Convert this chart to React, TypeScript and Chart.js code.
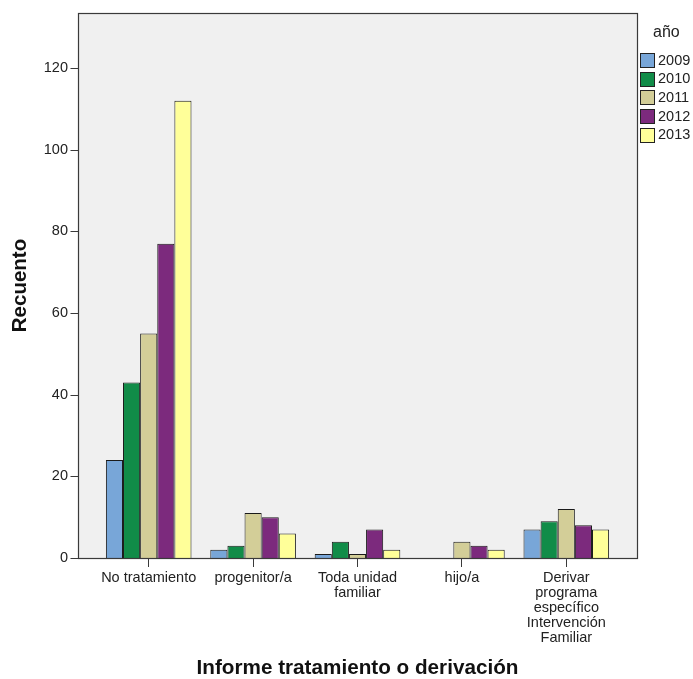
import React, { useEffect, useRef } from "react";
import { Chart, registerables } from "chart.js";

Chart.register(...registerables);

const categories: (string | string[])[] = [
  "No tratamiento",
  "progenitor/a",
  ["Toda unidad", "familiar"],
  "hijo/a",
  ["Derivar", "programa", "específico", "Intervención", "Familiar"],
];

const years = ["2009", "2010", "2011", "2012", "2013"];
const v2009: (number | null)[] = [24, 2, 1, null, 7];
const v2010: (number | null)[] = [43, 3, 4, null, 9];
const v2011: (number | null)[] = [55, 11, 1, 4, 12];
const v2012: (number | null)[] = [77, 10, 7, 3, 8];
const v2013: (number | null)[] = [112, 6, 2, 2, 7];
const seriesValues = [v2009, v2010, v2011, v2012, v2013];
const seriesColors = ["#78a6d8", "#118c48", "#d3ce98", "#7c2a7d", "#ffff99"];

const yTicks = [0, 20, 40, 60, 80, 100, 120];
const yMax = 133.5;

const legendTitle = "año";
const xTitle = "Informe tratamiento o derivación";
const yTitle = "Recuento";

const FONT = "'Liberation Sans', Arial, sans-serif";
const BOX_PAD = 18.5;

const plotBox = {
  id: "plotBox",
  beforeDraw(chart: any) {
    const { ctx, chartArea } = chart;
    const l = chartArea.left - BOX_PAD;
    const r = chartArea.right + BOX_PAD;
    ctx.save();
    ctx.fillStyle = "#f0f0f0";
    ctx.fillRect(l, chartArea.top, r - l, chartArea.bottom - chartArea.top);
    ctx.restore();
  },
  afterDatasetsDraw(chart: any) {
    const { ctx, chartArea, scales } = chart;
    const l = Math.round(chartArea.left - BOX_PAD) + 0.5;
    const r = Math.round(chartArea.right + BOX_PAD) + 0.5;
    const t = Math.round(chartArea.top) + 0.5;
    const b = Math.round(chartArea.bottom) + 0.5;
    ctx.save();
    ctx.strokeStyle = "#3a3a3a";
    ctx.lineWidth = 1.2;
    ctx.strokeRect(l, t, r - l, b - t);
    ctx.beginPath();
    for (const tk of scales.y.ticks) {
      const y = Math.round(scales.y.getPixelForValue(tk.value)) + 0.5;
      ctx.moveTo(l - 8, y);
      ctx.lineTo(l, y);
    }
    ctx.stroke();
    ctx.restore();
  },
};

const customLegend = {
  id: "customLegend",
  afterDraw(chart: any) {
    const { ctx } = chart;
    ctx.save();
    ctx.fillStyle = "#222";
    ctx.font = `16px ${FONT}`;
    ctx.textBaseline = "middle";
    ctx.textAlign = "left";
    ctx.fillText(legendTitle, 653, 33);
    ctx.font = `14.5px ${FONT}`;
    years.forEach((yr, i) => {
      const cy = 60 + i * 18.7;
      const top = Math.round(cy - 7) + 0.5;
      ctx.fillStyle = seriesColors[i];
      ctx.fillRect(640.5, top, 14, 14);
      ctx.strokeStyle = "#222";
      ctx.lineWidth = 1;
      ctx.strokeRect(640.5, top, 14, 14);
      ctx.fillStyle = "#222";
      ctx.fillText(yr, 658, cy + 0.5);
    });
    ctx.restore();
  },
};

export default function App() {
  const ref = useRef<HTMLCanvasElement | null>(null);
  useEffect(() => {
    document.body.style.margin = "0";
    const canvas = ref.current;
    if (!canvas) return;
    const chart = new Chart(canvas, {
      type: "bar",
      data: {
        labels: categories as any,
        datasets: years.map((yr, i) => ({
          label: yr,
          data: seriesValues[i] as any,
          backgroundColor: seriesColors[i],
          borderColor: "#1a1a1a",
          borderWidth: 1,
          barPercentage: 1,
          categoryPercentage: 0.82,
        })),
      },
      options: {
        responsive: false,
        animation: false,
        devicePixelRatio: 1,
        layout: { padding: { top: 13, right: 74.5, bottom: 0, left: 0 } },
        plugins: {
          legend: { display: false },
          tooltip: { enabled: false },
        },
        scales: {
          x: {
            offset: true,
            grid: {
              display: true,
              offset: false,
              drawOnChartArea: false,
              drawTicks: true,
              tickLength: 9,
              color: "#3a3a3a",
            },
            border: { display: false },
            ticks: {
              autoSkip: false,
              maxRotation: 0,
              minRotation: 0,
              padding: 4,
              color: "#222",
              font: { family: FONT, size: 14.5, lineHeight: 1.02 },
            },
            title: {
              display: true,
              text: xTitle,
              color: "#111",
              font: { family: FONT, size: 20.7, weight: "bold", lineHeight: 1 },
              padding: { top: 0, bottom: 0 },
            },
            afterFit(scale: any) {
              scale.height = 121;
            },
          },
          y: {
            min: 0,
            max: yMax,
            grid: { display: false, drawTicks: false },
            border: { display: false },
            afterBuildTicks(scale: any) {
              scale.ticks = yTicks.map((v) => ({ value: v }));
            },
            ticks: {
              padding: 28.5,
              color: "#222",
              font: { family: FONT, size: 14.5 },
            },
            title: {
              display: true,
              text: yTitle,
              color: "#111",
              font: { family: FONT, size: 20.5, weight: "bold", lineHeight: 1 },
              padding: { top: 10, bottom: 0 },
            },
            afterFit(scale: any) {
              scale.width = 96.5;
              scale.paddingTop = 0;
              scale.paddingBottom = 0;
            },
          },
        },
      },
      plugins: [plotBox, customLegend],
    });
    return () => chart.destroy();
  }, []);
  return (
    <div style={{ width: 693, height: 679 }}>
      <canvas ref={ref} width={693} height={679} style={{ display: "block" }} />
    </div>
  );
}
